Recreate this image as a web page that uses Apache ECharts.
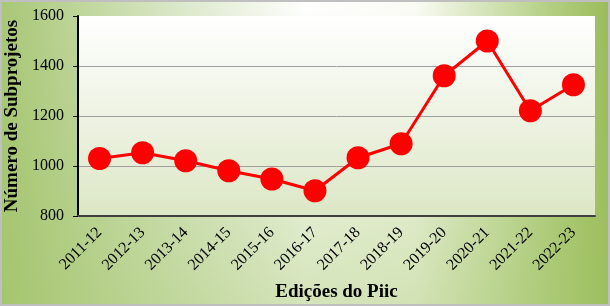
<!DOCTYPE html>
<html><head><meta charset="utf-8">
<script src="https://cdn.jsdelivr.net/npm/echarts@6/dist/echarts.min.js"></script>
<style>html,body{margin:0;padding:0;background:#fff}#c{width:610px;height:306px}</style>
</head><body><div id="c"></div>
<script>
const categories = ['2011-12','2012-13','2013-14','2014-15','2015-16','2016-17','2017-18','2018-19','2019-20','2020-21','2021-22','2022-23'];
const subprojetos = [1030,1053,1021,981,948,901,1033,1089,1361,1500,1221,1325];
const yTicks = {min:800, max:1600, interval:200};

const chart = echarts.init(document.getElementById('c'), null, {renderer:'canvas'});
const font = '"Liberation Serif","Times New Roman",serif';
chart.setOption({
  backgroundColor: new echarts.graphic.LinearGradient(0,0,1,0,[
    {offset:0,color:'#a8c776'},{offset:0.3,color:'#dde9cd'},{offset:0.5,color:'#ffffff'},
    {offset:0.68,color:'#fbfcf6'},{offset:0.9,color:'#b4cf84'},{offset:1,color:'#9bbb59'}]),
  graphic:[
    {type:'rect', z:-10, silent:true, shape:{x:0,y:0,width:610,height:306},
     style:{fill:new echarts.graphic.LinearGradient(0,0,0,1,[
       {offset:0,color:'rgba(160,195,100,0)'},{offset:1,color:'rgba(160,195,100,0.45)'}])}},
    {type:'rect', z:100, silent:true, shape:{x:1,y:1,width:608,height:304},
     style:{fill:'none', stroke:'#bfbfbf', lineWidth:2}}
  ],
  grid:{left:78, right:15, top:16, bottom:90, show:true, borderWidth:0, containLabel:false, outerBoundsMode:'none',
    backgroundColor:new echarts.graphic.LinearGradient(0,0,0,1,[
      {offset:0,color:'#ffffff'},{offset:1,color:'#dce7c6'}])},
  xAxis:{type:'category', data:categories, boundaryGap:true,
    name:'Edições do Piic', nameLocation:'middle', nameGap:67,
    nameTextStyle:{fontFamily:font, fontSize:19, fontWeight:'bold', color:'#000'},
    axisLine:{lineStyle:{color:'#404040', width:2}},
    axisTick:{inside:true, length:5, lineStyle:{color:'#404040', width:2}},
    axisLabel:{rotate:45, margin:14, fontFamily:font, fontSize:16, color:'#000', interval:0, padding:[0,0,0,0]}},
  yAxis:{type:'value', min:yTicks.min, max:yTicks.max, interval:yTicks.interval,
    name:'Número de Subprojetos', nameLocation:'middle', nameGap:55,
    nameTextStyle:{fontFamily:font, fontSize:19, fontWeight:'bold', color:'#000'},
    axisLine:{show:true, lineStyle:{color:'#000', width:2}},
    axisTick:{show:true, length:5, lineStyle:{color:'#000', width:1}},
    axisLabel:{margin:14, fontFamily:font, fontSize:16, color:'#000', formatter:v=>String(v)},
    splitLine:{show:true, lineStyle:{color:['transparent','#a0a0a0','#a0a0a0','#a0a0a0','transparent'], width:1}}},
  series:[{type:'line', data:subprojetos, symbol:'circle', symbolSize:23,
    lineStyle:{color:'#ff0000', width:3}, itemStyle:{color:'#ff0000'}, animation:false}]
});
</script></body></html>
